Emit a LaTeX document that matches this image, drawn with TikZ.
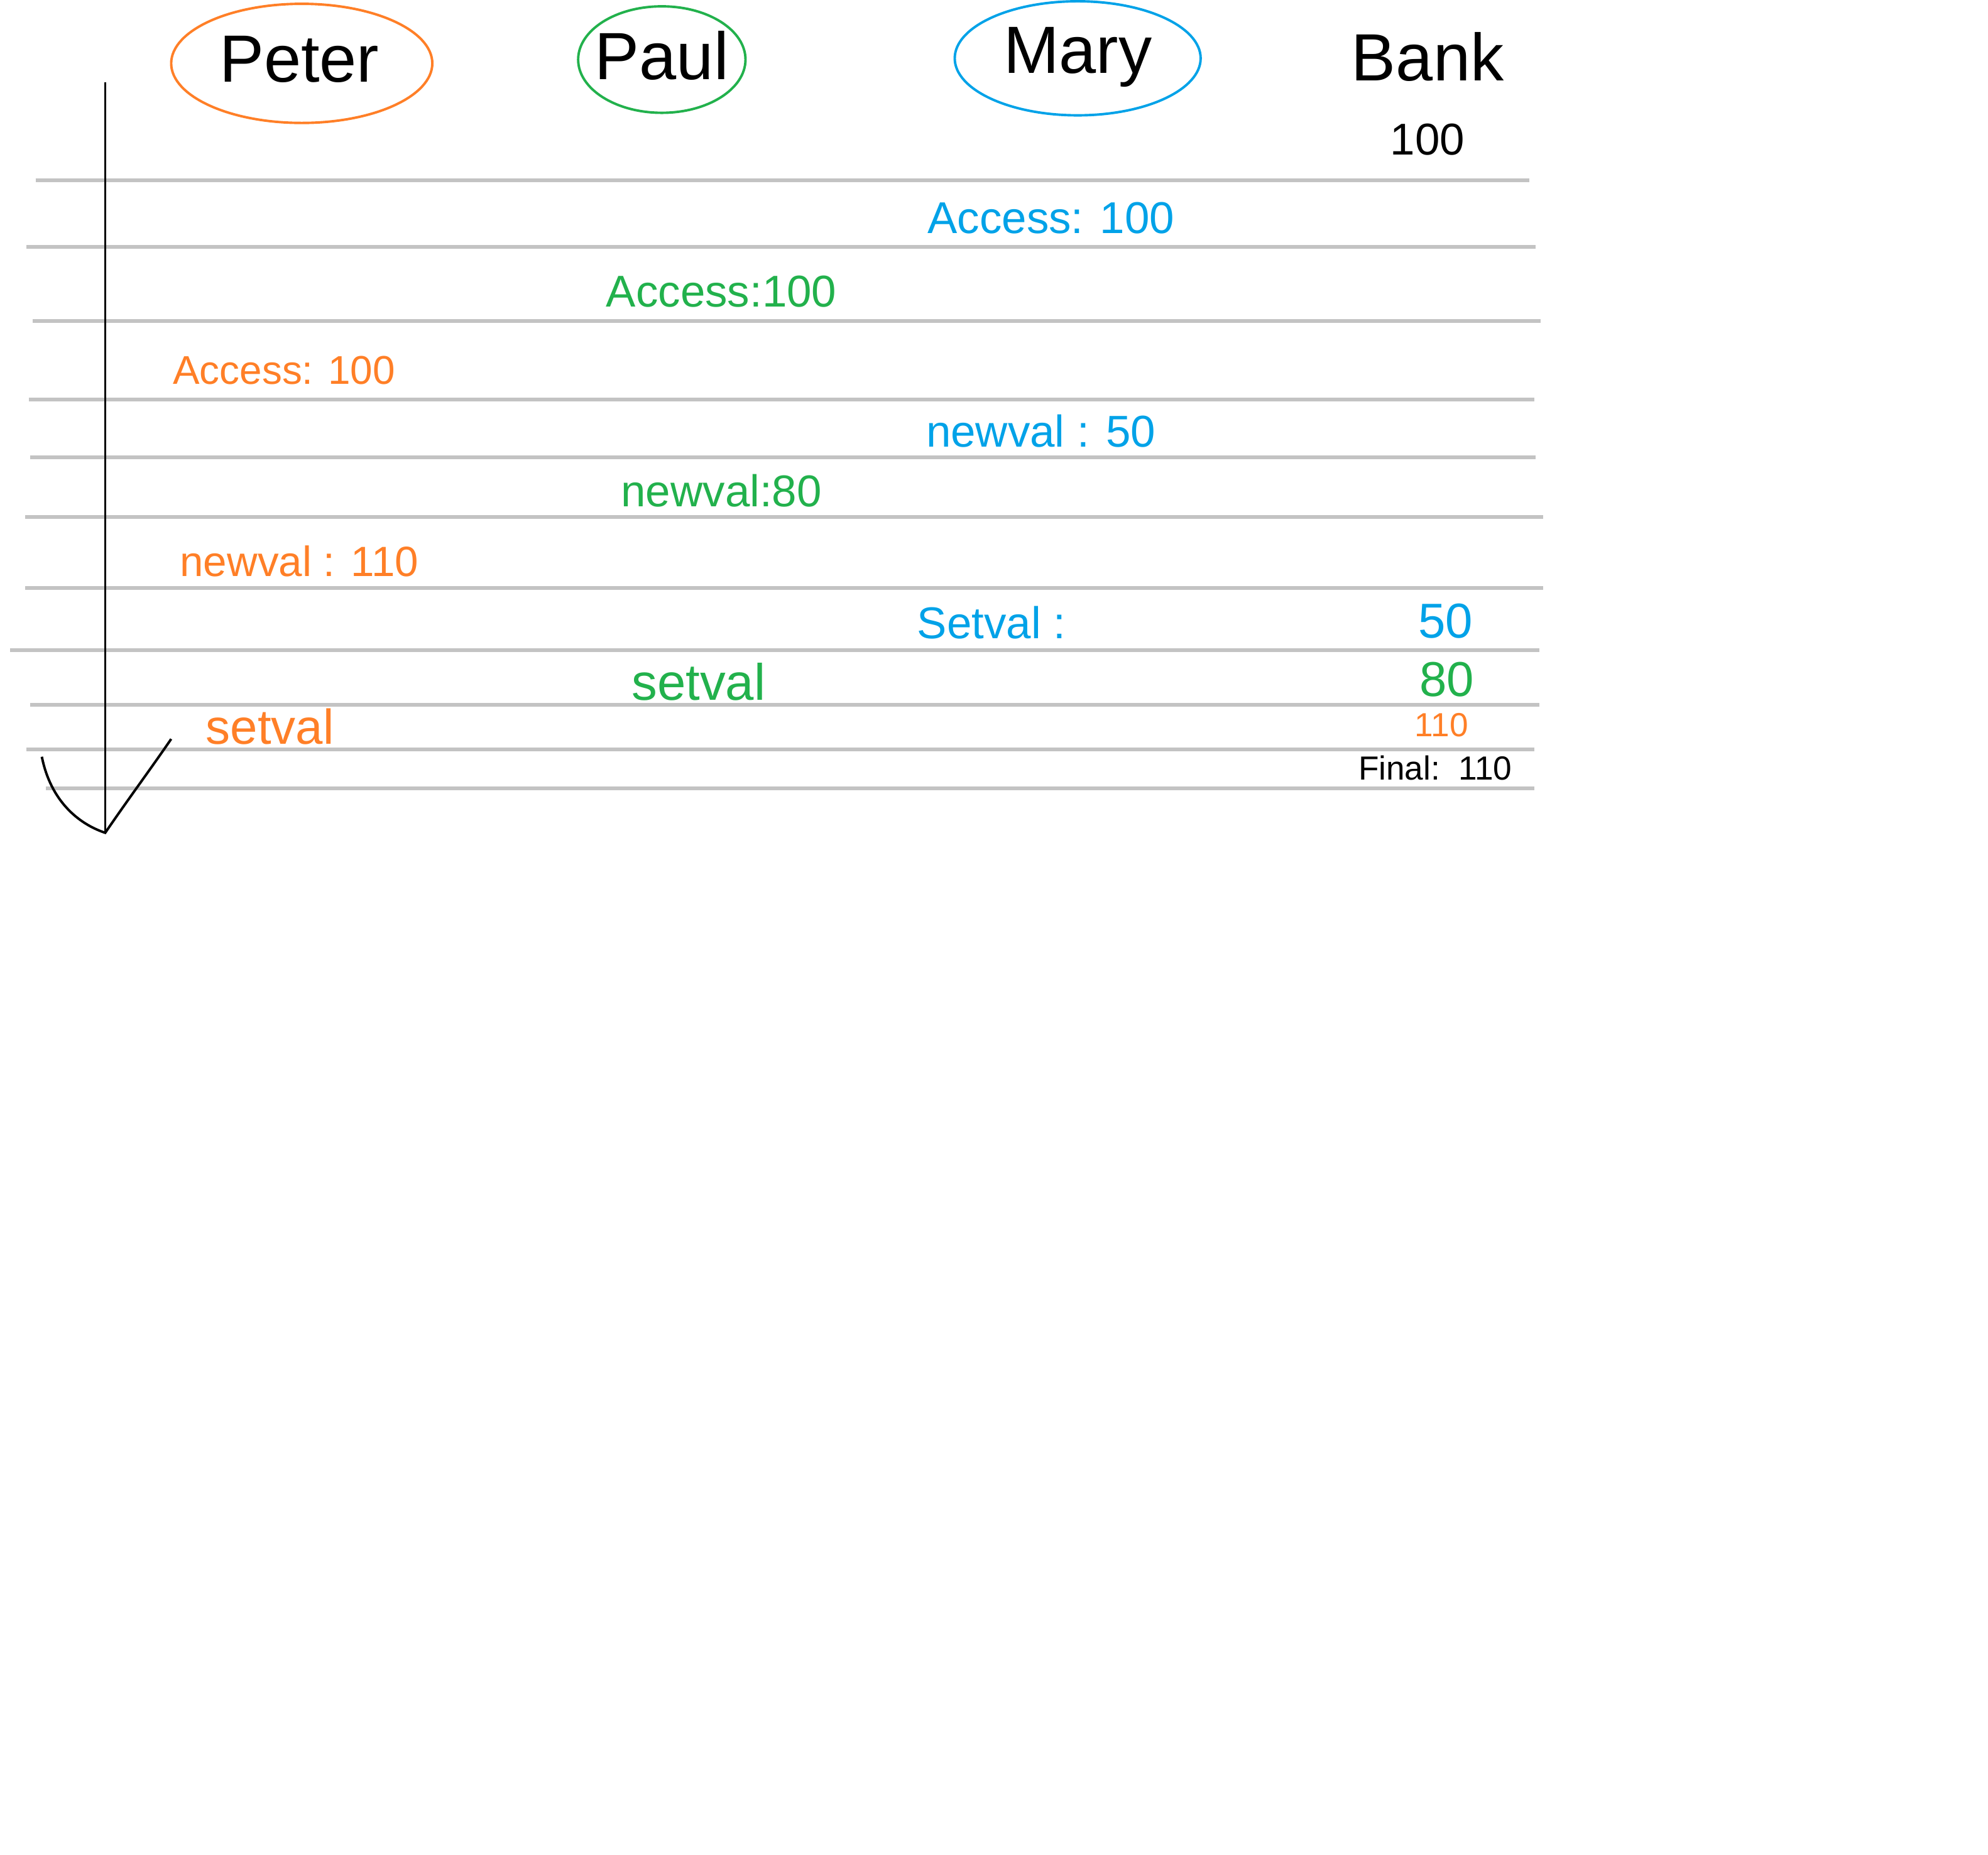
\documentclass[tikz,border=0pt]{standalone}
\usepackage{fontspec}
\setmainfont{Liberation Sans}
\usetikzlibrary{shapes.geometric}
\definecolor{cOrange}{RGB}{255,127,39}
\definecolor{cGreen}{RGB}{34,177,76}
\definecolor{cBlue}{RGB}{0,162,232}
\definecolor{cGray}{RGB}{195,195,195}
\tikzset{
  rule/.style={draw=cGray, line width=1.7pt},
  ring/.style={ellipse, draw, line width=1.1pt, inner sep=0pt},
  head/.style={inner sep=0pt, font=\fontsize{30}{36}\selectfont},
  entry/.style={inner sep=0pt, font=\fontsize{20}{24}\selectfont},
  small/.style={inner sep=0pt, font=\fontsize{15}{18}\selectfont},
}
\begin{document}
\begin{tikzpicture}[x=0.02cm, y=-0.02cm]
\useasboundingbox (0,0) rectangle (1568,1463);
% horizontal rules
\draw[rule] (28,142) -- (1206,142);
\draw[rule] (21,195) -- (1211,195);
\draw[rule] (26,253) -- (1215,253);
\draw[rule] (23,315) -- (1210,315);
\draw[rule] (24,361) -- (1211,361);
\draw[rule] (20,408) -- (1217,408);
\draw[rule] (20,464) -- (1217,464);
\draw[rule] (8,513) -- (1214,513);
\draw[rule] (24,556) -- (1214,556);
\draw[rule] (21,591) -- (1210,591);
\draw[rule] (36,622) -- (1210,622);
% time axis
\coordinate (ttop) at (83,65);
\coordinate (tbot) at (83,657);
\coordinate (tl) at (33,597);
\coordinate (tr) at (135,583);
\draw[line width=1.1pt] (ttop) -- (tbot);
\draw[line width=1.1pt] (tl) .. controls (40,632) and (62,650) .. (tbot) .. controls (100,632) and (120,605) .. (tr);
% headers
\node[ring, draw=cOrange, minimum width=4.12cm, minimum height=1.88cm] (peterring) at (238,50) {};
\node[ring, draw=cGreen, minimum width=2.64cm, minimum height=1.68cm] (paulring) at (522,47) {};
\node[ring, draw=cBlue, minimum width=3.88cm, minimum height=1.8cm] (maryring) at (850,46) {};
\node[head] (peter) at (236,47) {Peter};
\node[head] (paul) at (522,44) {Paul};
\node[head] (mary) at (850,45) {Mary};
\node[head] (bank) at (1126,45) {Bank};
\node[entry] (bank0) at (1126,110) {100};
% Mary / Paul / Peter steps
\node[entry, text=cBlue] (maccess) at (829,172) {Access: 100};
\node[entry, text=cGreen] (paccess) at (569,230) {Access:100};
\node[entry, font=\fontsize{18}{22}\selectfont, text=cOrange] (peaccess) at (224,292) {Access: 100};
\node[entry, text=cBlue] (mnew) at (821,340) {newval : 50};
\node[entry, text=cGreen] (pnew) at (569,387) {newval:80};
\node[entry, font=\fontsize{19}{23}\selectfont, text=cOrange] (penew) at (236,443) {newval : 110};
\node[entry, text=cBlue] (mset) at (782,491) {Setval :};
\node[entry, font=\fontsize{23}{27}\selectfont, text=cGreen] (pset) at (551,538) {setval};
\node[entry, font=\fontsize{22}{26}\selectfont, text=cOrange] (peset) at (213,573) {setval};
% bank values
\node[entry, font=\fontsize{22}{26}\selectfont, text=cBlue] (b50) at (1140,490) {50};
\node[entry, font=\fontsize{22}{26}\selectfont, text=cGreen] (b80) at (1141,536) {80};
\node[small, text=cOrange] (b110) at (1137,572) {110};
\node[small] (final) at (1132,606) {Final:\ \ 110};
\end{tikzpicture}
\end{document}
